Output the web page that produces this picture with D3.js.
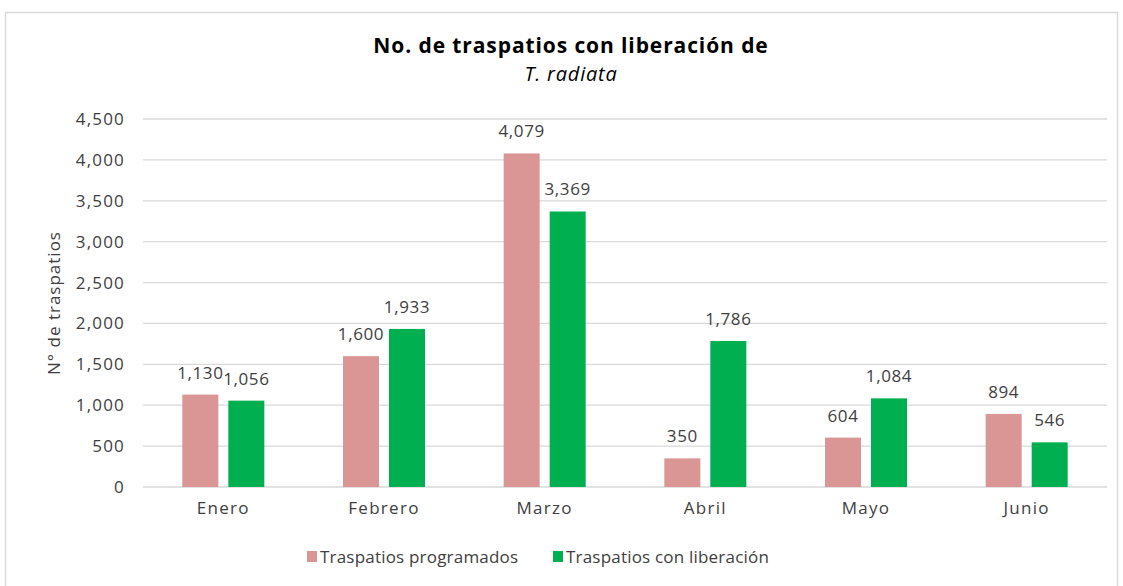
<!DOCTYPE html>
<html><head><meta charset="utf-8">
<script src="https://cdn.jsdelivr.net/npm/d3@7"></script>
<style>body{margin:0;background:#fff;} text{font-family:"Open Sans","DejaVu Sans",sans-serif;}</style>
</head><body>
<svg id="c" width="1123" height="586"></svg>
<script>
const categories = ["Enero","Febrero","Marzo","Abril","Mayo","Junio"];
const programados = [1130,1600,4079,350,604,894];
const liberacion = [1056,1933,3369,1786,1084,546];
const seriesNames = ["Traspatios programados","Traspatios con liberación"];
const seriesColors = ["#D99694","#00B050"];
const yTicks = [0,500,1000,1500,2000,2500,3000,3500,4000,4500];

const svg = d3.select("#c");
svg.append("rect").attr("x",5.5).attr("y",12.5).attr("width",1112).attr("height",600)
  .attr("fill","#fff").attr("stroke","#d9d9d9").attr("stroke-width",1.5);

const m = {l:143, r:1107, t:119, b:487};
const x = d3.scaleBand().domain(categories).range([m.l,m.r]);
const y = d3.scaleLinear().domain([0,4500]).range([m.b,m.t]);
const fmt = d3.format(",");

const grid = svg.append("g");
grid.selectAll("line").data(yTicks).join("line")
  .attr("x1",m.l).attr("x2",m.r).attr("y1",d=>y(d)).attr("y2",d=>y(d))
  .attr("stroke","#d9d9d9").attr("stroke-width",1.3);

const yAxis = svg.append("g").attr("transform",`translate(${m.l},0)`)
  .call(d3.axisLeft(y).tickValues(yTicks).tickFormat(fmt).tickSize(0).tickPadding(18));
yAxis.select(".domain").remove();
yAxis.selectAll("text").attr("font-size",17).attr("letter-spacing",1.2).attr("fill","#404040").attr("font-family","'Open Sans',sans-serif");

const xAxis = svg.append("g").attr("transform",`translate(0,${m.b})`)
  .call(d3.axisBottom(x).tickSize(0).tickPadding(15));
xAxis.select(".domain").remove();
xAxis.selectAll("text").attr("font-size",17).attr("letter-spacing",1.3).attr("fill","#404040").attr("font-family","'Open Sans',sans-serif");

const bw = 36, gap = 10;
const data = [programados, liberacion];
data.forEach((vals,si)=>{
  const off = x.bandwidth()/2 - (bw*2+gap)/2 + si*(bw+gap);
  const g = svg.append("g");
  g.selectAll("rect").data(vals).join("rect")
    .attr("x",(d,i)=>x(categories[i])+off).attr("width",bw)
    .attr("y",d=>y(d)).attr("height",d=>y(0)-y(d)).attr("fill",seriesColors[si]);
  g.selectAll("text").data(vals).join("text")
    .attr("x",(d,i)=>x(categories[i])+off+bw/2).attr("y",d=>y(d)-16)
    .attr("text-anchor","middle").attr("font-size",17).attr("letter-spacing",0.6).attr("fill","#404040")
    .text(d=>fmt(d));
});

svg.append("text").attr("x",571).attr("y",53).attr("text-anchor","middle")
  .attr("font-size",21).attr("font-weight","bold").attr("letter-spacing",0.9).attr("fill","#000")
  .text("No. de traspatios con liberación de");
svg.append("text").attr("x",571).attr("y",81).attr("text-anchor","middle")
  .attr("font-size",20).attr("font-style","italic").attr("letter-spacing",0.8).attr("fill","#000")
  .text("T. radiata");

svg.append("text").attr("transform","translate(60,303) rotate(-90)")
  .attr("text-anchor","middle").attr("font-size",17).attr("letter-spacing",1).attr("fill","#404040")
  .text("N° de traspatios");

const leg = svg.append("g");
const legX = [307, 553];
seriesNames.forEach((n,i)=>{
  leg.append("rect").attr("x",legX[i]).attr("y",551).attr("width",10).attr("height",11).attr("fill",seriesColors[i]);
  leg.append("text").attr("x",legX[i]+13).attr("y",563).attr("font-size",17).attr("letter-spacing",0.2).attr("fill","#404040").text(n);
});
</script>
</body></html>
